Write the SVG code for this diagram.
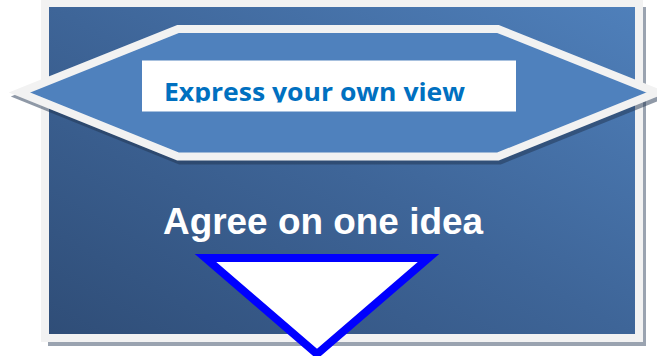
<svg xmlns="http://www.w3.org/2000/svg" width="657" height="356" viewBox="0 0 657 356">
  <defs>
    <linearGradient id="bg" x1="0" y1="1" x2="1" y2="0">
      <stop offset="0" stop-color="#2f4d77"/>
      <stop offset="0.5" stop-color="#3e6598"/>
      <stop offset="1" stop-color="#4f80bb"/>
    </linearGradient>
    <clipPath id="txtclip">
      <rect x="142" y="60" width="374" height="42.5"/>
    </clipPath>
  </defs>
  <style>
    .shadow { fill: none; stroke: #1f3350; stroke-opacity: 0.5; }
    .frame { stroke: #f2f2f2; stroke-width: 8; }
    .hex { fill: #4f81bd; stroke: #f2f2f2; stroke-width: 8; stroke-linejoin: miter; stroke-miterlimit: 10; }
    .tri { fill: #ffffff; stroke: #0000ff; stroke-width: 8; stroke-linejoin: miter; stroke-miterlimit: 10; }
  </style>

  <g id="frame">
    <rect x="48" y="7" width="598" height="339" fill="#1f3350" fill-opacity="0.45"/>
    <rect x="45" y="3" width="594" height="335" fill="url(#bg)" class="frame"/>
  </g>

  <g id="hexagon">
    <polygon class="shadow" stroke-width="8" points="21.5,96.5 180,33 500,33 659,96.5 500,160.5 180,160.5"/>
    <polygon class="hex" points="19.5,92.5 178,29 498,29 657,92.5 498,156.5 178,156.5"/>
  </g>

  <g id="view-box">
    <rect x="142" y="60.5" width="374" height="51" fill="#ffffff"/>
    <text x="164" y="100.5" clip-path="url(#txtclip)" font-family="'Open Sans', 'DejaVu Sans', sans-serif" font-weight="bold" font-size="25" fill="#0070c0" textLength="301" lengthAdjust="spacingAndGlyphs">Express your own view</text>
  </g>

  <g id="agree-label">
    <text x="163" y="234" font-family="'Liberation Sans', Arial, sans-serif" font-weight="bold" font-size="36.5" fill="#ffffff" textLength="320" lengthAdjust="spacingAndGlyphs">Agree on one idea</text>
  </g>

  <g id="down-arrow">
    <polygon class="tri" points="205.5,258 428.5,258 317,354"/>
  </g>
</svg>
